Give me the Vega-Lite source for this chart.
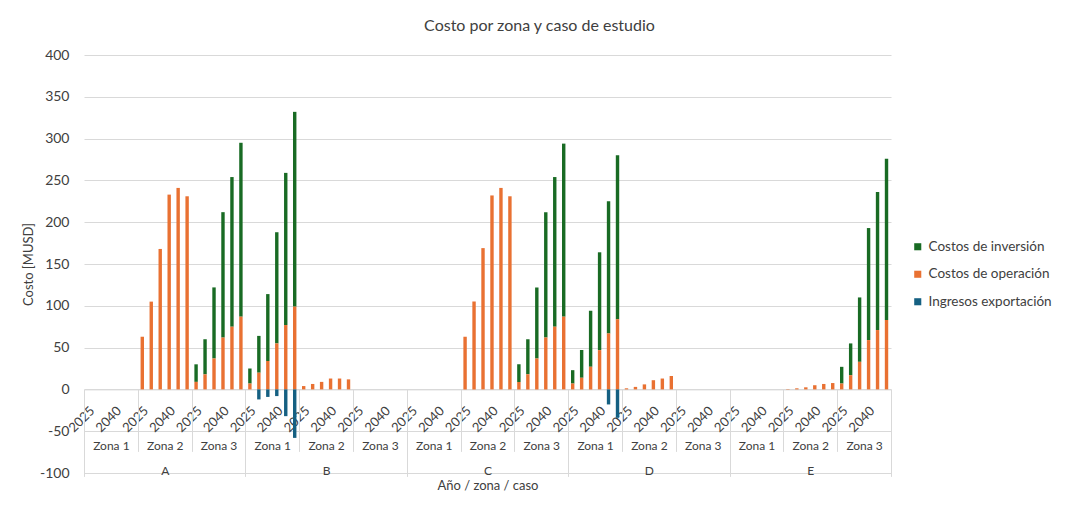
{
  "$schema": "https://vega.github.io/schema/vega-lite/v6.json",
  "width": 807,
  "height": 418,
  "autosize": {"type": "none"},
  "padding": {"left": 84, "top": 55, "right": 183, "bottom": 39},
  "background": "white",
  "config": {
    "view": {"stroke": null},
    "font": "Lato",
    "axis": {"labelFont": "Lato", "titleFont": "Lato", "labelColor": "#404040", "titleColor": "#404040"}
  },
  "title": {
    "text": "Costo por zona y caso de estudio",
    "fontSize": 16,
    "fontWeight": "normal",
    "color": "#404040",
    "font": "Lato",
    "anchor": "middle",
    "dx": 52,
    "offset": 14
  },
  "data": {
    "values": [
      {"caso": "A", "zona": "Zona 1", "anio": "2025", "op": 0, "inv": 0, "exp": 0},
      {"caso": "A", "zona": "Zona 1", "anio": "2030", "op": 0, "inv": 0, "exp": 0},
      {"caso": "A", "zona": "Zona 1", "anio": "2035", "op": 0, "inv": 0, "exp": 0},
      {"caso": "A", "zona": "Zona 1", "anio": "2040", "op": 0, "inv": 0, "exp": 0},
      {"caso": "A", "zona": "Zona 1", "anio": "2045", "op": 0, "inv": 0, "exp": 0},
      {"caso": "A", "zona": "Zona 1", "anio": "2050", "op": 0, "inv": 0, "exp": 0},
      {"caso": "A", "zona": "Zona 2", "anio": "2025", "op": 63, "inv": 0, "exp": 0},
      {"caso": "A", "zona": "Zona 2", "anio": "2030", "op": 105, "inv": 0, "exp": 0},
      {"caso": "A", "zona": "Zona 2", "anio": "2035", "op": 168, "inv": 0, "exp": 0},
      {"caso": "A", "zona": "Zona 2", "anio": "2040", "op": 233, "inv": 0, "exp": 0},
      {"caso": "A", "zona": "Zona 2", "anio": "2045", "op": 241, "inv": 0, "exp": 0},
      {"caso": "A", "zona": "Zona 2", "anio": "2050", "op": 231, "inv": 0, "exp": 0},
      {"caso": "A", "zona": "Zona 3", "anio": "2025", "op": 9, "inv": 21, "exp": 0},
      {"caso": "A", "zona": "Zona 3", "anio": "2030", "op": 18, "inv": 42, "exp": 0},
      {"caso": "A", "zona": "Zona 3", "anio": "2035", "op": 37, "inv": 85, "exp": 0},
      {"caso": "A", "zona": "Zona 3", "anio": "2040", "op": 62, "inv": 150, "exp": 0},
      {"caso": "A", "zona": "Zona 3", "anio": "2045", "op": 75, "inv": 179, "exp": 0},
      {"caso": "A", "zona": "Zona 3", "anio": "2050", "op": 87, "inv": 208, "exp": 0},
      {"caso": "B", "zona": "Zona 1", "anio": "2025", "op": 7, "inv": 18, "exp": 0},
      {"caso": "B", "zona": "Zona 1", "anio": "2030", "op": 20, "inv": 44, "exp": -12},
      {"caso": "B", "zona": "Zona 1", "anio": "2035", "op": 34, "inv": 80, "exp": -9},
      {"caso": "B", "zona": "Zona 1", "anio": "2040", "op": 55, "inv": 133, "exp": -8},
      {"caso": "B", "zona": "Zona 1", "anio": "2045", "op": 77, "inv": 182, "exp": -32},
      {"caso": "B", "zona": "Zona 1", "anio": "2050", "op": 99, "inv": 233, "exp": -58},
      {"caso": "B", "zona": "Zona 2", "anio": "2025", "op": 4, "inv": 0, "exp": 0},
      {"caso": "B", "zona": "Zona 2", "anio": "2030", "op": 6.5, "inv": 0, "exp": 0},
      {"caso": "B", "zona": "Zona 2", "anio": "2035", "op": 9, "inv": 0, "exp": 0},
      {"caso": "B", "zona": "Zona 2", "anio": "2040", "op": 13, "inv": 0, "exp": 0},
      {"caso": "B", "zona": "Zona 2", "anio": "2045", "op": 13, "inv": 0, "exp": 0},
      {"caso": "B", "zona": "Zona 2", "anio": "2050", "op": 12, "inv": 0, "exp": 0},
      {"caso": "B", "zona": "Zona 3", "anio": "2025", "op": 0, "inv": 0, "exp": 0},
      {"caso": "B", "zona": "Zona 3", "anio": "2030", "op": 0, "inv": 0, "exp": 0},
      {"caso": "B", "zona": "Zona 3", "anio": "2035", "op": 0, "inv": 0, "exp": 0},
      {"caso": "B", "zona": "Zona 3", "anio": "2040", "op": 0, "inv": 0, "exp": 0},
      {"caso": "B", "zona": "Zona 3", "anio": "2045", "op": 0, "inv": 0, "exp": 0},
      {"caso": "B", "zona": "Zona 3", "anio": "2050", "op": 0, "inv": 0, "exp": 0},
      {"caso": "C", "zona": "Zona 1", "anio": "2025", "op": 0, "inv": 0, "exp": 0},
      {"caso": "C", "zona": "Zona 1", "anio": "2030", "op": 0, "inv": 0, "exp": 0},
      {"caso": "C", "zona": "Zona 1", "anio": "2035", "op": 0, "inv": 0, "exp": 0},
      {"caso": "C", "zona": "Zona 1", "anio": "2040", "op": 0, "inv": 0, "exp": 0},
      {"caso": "C", "zona": "Zona 1", "anio": "2045", "op": 0, "inv": 0, "exp": 0},
      {"caso": "C", "zona": "Zona 1", "anio": "2050", "op": 0, "inv": 0, "exp": 0},
      {"caso": "C", "zona": "Zona 2", "anio": "2025", "op": 63, "inv": 0, "exp": 0},
      {"caso": "C", "zona": "Zona 2", "anio": "2030", "op": 105, "inv": 0, "exp": 0},
      {"caso": "C", "zona": "Zona 2", "anio": "2035", "op": 169, "inv": 0, "exp": 0},
      {"caso": "C", "zona": "Zona 2", "anio": "2040", "op": 232, "inv": 0, "exp": 0},
      {"caso": "C", "zona": "Zona 2", "anio": "2045", "op": 241, "inv": 0, "exp": 0},
      {"caso": "C", "zona": "Zona 2", "anio": "2050", "op": 231, "inv": 0, "exp": 0},
      {"caso": "C", "zona": "Zona 3", "anio": "2025", "op": 9, "inv": 21, "exp": 0},
      {"caso": "C", "zona": "Zona 3", "anio": "2030", "op": 18, "inv": 42, "exp": 0},
      {"caso": "C", "zona": "Zona 3", "anio": "2035", "op": 37, "inv": 85, "exp": 0},
      {"caso": "C", "zona": "Zona 3", "anio": "2040", "op": 62, "inv": 150, "exp": 0},
      {"caso": "C", "zona": "Zona 3", "anio": "2045", "op": 75, "inv": 179, "exp": 0},
      {"caso": "C", "zona": "Zona 3", "anio": "2050", "op": 87, "inv": 207, "exp": 0},
      {"caso": "D", "zona": "Zona 1", "anio": "2025", "op": 7, "inv": 16, "exp": 0},
      {"caso": "D", "zona": "Zona 1", "anio": "2030", "op": 14, "inv": 33, "exp": 0},
      {"caso": "D", "zona": "Zona 1", "anio": "2035", "op": 27, "inv": 67, "exp": 0},
      {"caso": "D", "zona": "Zona 1", "anio": "2040", "op": 47, "inv": 117, "exp": 0},
      {"caso": "D", "zona": "Zona 1", "anio": "2045", "op": 67, "inv": 158, "exp": -18},
      {"caso": "D", "zona": "Zona 1", "anio": "2050", "op": 84, "inv": 196, "exp": -34},
      {"caso": "D", "zona": "Zona 2", "anio": "2025", "op": 1.3, "inv": 0, "exp": 0},
      {"caso": "D", "zona": "Zona 2", "anio": "2030", "op": 3, "inv": 0, "exp": 0},
      {"caso": "D", "zona": "Zona 2", "anio": "2035", "op": 6, "inv": 0, "exp": 0},
      {"caso": "D", "zona": "Zona 2", "anio": "2040", "op": 11, "inv": 0, "exp": 0},
      {"caso": "D", "zona": "Zona 2", "anio": "2045", "op": 13, "inv": 0, "exp": 0},
      {"caso": "D", "zona": "Zona 2", "anio": "2050", "op": 16, "inv": 0, "exp": 0},
      {"caso": "D", "zona": "Zona 3", "anio": "2025", "op": 0, "inv": 0, "exp": 0},
      {"caso": "D", "zona": "Zona 3", "anio": "2030", "op": 0, "inv": 0, "exp": 0},
      {"caso": "D", "zona": "Zona 3", "anio": "2035", "op": 0, "inv": 0, "exp": 0},
      {"caso": "D", "zona": "Zona 3", "anio": "2040", "op": 0, "inv": 0, "exp": 0},
      {"caso": "D", "zona": "Zona 3", "anio": "2045", "op": 0, "inv": 0, "exp": 0},
      {"caso": "D", "zona": "Zona 3", "anio": "2050", "op": 0, "inv": 0, "exp": 0},
      {"caso": "E", "zona": "Zona 1", "anio": "2025", "op": 0, "inv": 0, "exp": 0},
      {"caso": "E", "zona": "Zona 1", "anio": "2030", "op": 0, "inv": 0, "exp": 0},
      {"caso": "E", "zona": "Zona 1", "anio": "2035", "op": 0, "inv": 0, "exp": 0},
      {"caso": "E", "zona": "Zona 1", "anio": "2040", "op": 0, "inv": 0, "exp": 0},
      {"caso": "E", "zona": "Zona 1", "anio": "2045", "op": 0, "inv": 0, "exp": 0},
      {"caso": "E", "zona": "Zona 1", "anio": "2050", "op": 0, "inv": 0, "exp": 0},
      {"caso": "E", "zona": "Zona 2", "anio": "2025", "op": 0.5, "inv": 0, "exp": 0},
      {"caso": "E", "zona": "Zona 2", "anio": "2030", "op": 1.3, "inv": 0, "exp": 0},
      {"caso": "E", "zona": "Zona 2", "anio": "2035", "op": 2.5, "inv": 0, "exp": 0},
      {"caso": "E", "zona": "Zona 2", "anio": "2040", "op": 5, "inv": 0, "exp": 0},
      {"caso": "E", "zona": "Zona 2", "anio": "2045", "op": 6.5, "inv": 0, "exp": 0},
      {"caso": "E", "zona": "Zona 2", "anio": "2050", "op": 7.6, "inv": 0, "exp": 0},
      {"caso": "E", "zona": "Zona 3", "anio": "2025", "op": 7, "inv": 20, "exp": 0},
      {"caso": "E", "zona": "Zona 3", "anio": "2030", "op": 17, "inv": 38, "exp": 0},
      {"caso": "E", "zona": "Zona 3", "anio": "2035", "op": 33, "inv": 77, "exp": 0},
      {"caso": "E", "zona": "Zona 3", "anio": "2040", "op": 59, "inv": 134, "exp": 0},
      {"caso": "E", "zona": "Zona 3", "anio": "2045", "op": 71, "inv": 165, "exp": 0},
      {"caso": "E", "zona": "Zona 3", "anio": "2050", "op": 83, "inv": 193, "exp": 0}
    ]
  },
  "transform": [
    {"calculate": "datum.caso + '|' + datum.zona + '|' + datum.anio", "as": "key"},
    {"calculate": "datum.caso + '|' + datum.zona", "as": "zkey"}
  ],
  "layer": [
    {
      "transform": [{"fold": ["inv", "op", "exp"], "as": ["serie", "valor"]}],
      "mark": {"type": "bar", "width": {"band": 0.38}},
      "encoding": {
        "x": {
          "field": "key",
          "type": "nominal",
          "sort": "ascending",
          "scale": {"paddingInner": 0, "paddingOuter": 0},
          "axis": {
            "orient": "bottom",
            "title": null,
            "offset": -83.6,
            "domain": true,
            "domainColor": "#d9d9d9",
            "ticks": false,
            "grid": false,
            "labelAngle": -45,
            "labelAlign": "right",
            "labelBaseline": "middle",
            "labelPadding": 19,
            "labelOffset": 4,
            "labelFontSize": 13,
            "labelOverlap": false,
            "labelExpr": "indexof(['2025','2040'], split(datum.value, '|')[2]) >= 0 ? split(datum.value, '|')[2] : ''"
          }
        },
        "y": {
          "field": "valor",
          "type": "quantitative",
          "stack": "zero",
          "scale": {"domain": [-100, 400], "nice": false},
          "axis": {
            "values": [-100, -50, 0, 50, 100, 150, 200, 250, 300, 350, 400],
            "labelExpr": "replace(datum.label, '\u2212', '-')",
            "domain": false,
            "ticks": false,
            "grid": true,
            "gridColor": "#d9d9d9",
            "labelFontSize": 14,
            "labelPadding": 15,
            "title": "Costo [MUSD]",
            "titleFontSize": 13,
            "titleFontWeight": "normal",
            "titlePadding": 4
          }
        },
        "color": {
          "field": "serie",
          "type": "nominal",
          "scale": {"domain": ["inv", "op", "exp"], "range": ["#196B24", "#E97132", "#156082"]},
          "legend": {
            "title": null,
            "orient": "none",
            "legendX": 827,
            "legendY": 185,
            "symbolType": "square",
            "symbolSize": 50,
            "symbolStrokeWidth": 0,
            "labelFontSize": 13.5,
            "labelColor": "#404040",
            "labelFont": "Lato",
            "labelOffset": 4,
            "rowPadding": 12.5,
            "labelExpr": "datum.label == 'inv' ? 'Costos de inversión' : datum.label == 'op' ? 'Costos de operación' : 'Ingresos exportación'"
          }
        },
        "order": {"field": "serie", "sort": "descending"}
      }
    },
    {
      "mark": {"type": "tick", "opacity": 0},
      "encoding": {
        "x": {
          "field": "zkey",
          "type": "nominal",
          "sort": "ascending",
          "scale": {"paddingInner": 0, "paddingOuter": 0},
          "axis": {
            "orient": "bottom",
            "title": null,
            "offset": -83.6,
            "domain": false,
            "ticks": true,
            "tickBand": "extent",
            "tickSize": 62,
            "tickColor": "#d9d9d9",
            "grid": false,
            "labelAngle": 0,
            "labelAlign": "center",
            "labelBaseline": "middle",
            "labelPadding": -6,
            "labelFontSize": 12,
            "labelOverlap": false,
            "labelExpr": "split(datum.value, '|')[1]"
          }
        }
      }
    },
    {
      "mark": {"type": "tick", "opacity": 0},
      "encoding": {
        "x": {
          "field": "caso",
          "type": "nominal",
          "sort": "ascending",
          "scale": {"paddingInner": 0, "paddingOuter": 0},
          "axis": {
            "orient": "bottom",
            "title": "Año / zona / caso",
            "titleFontSize": 13,
            "titleFontWeight": "normal",
            "titlePadding": 3,
            "offset": -83.6,
            "domain": false,
            "ticks": true,
            "tickBand": "extent",
            "tickSize": 87,
            "tickColor": "#d9d9d9",
            "grid": false,
            "labelAngle": 0,
            "labelAlign": "center",
            "labelBaseline": "middle",
            "labelPadding": -6,
            "labelFontSize": 12,
            "labelOverlap": false
          }
        }
      }
    }
  ],
  "resolve": {"scale": {"x": "independent"}}
}
